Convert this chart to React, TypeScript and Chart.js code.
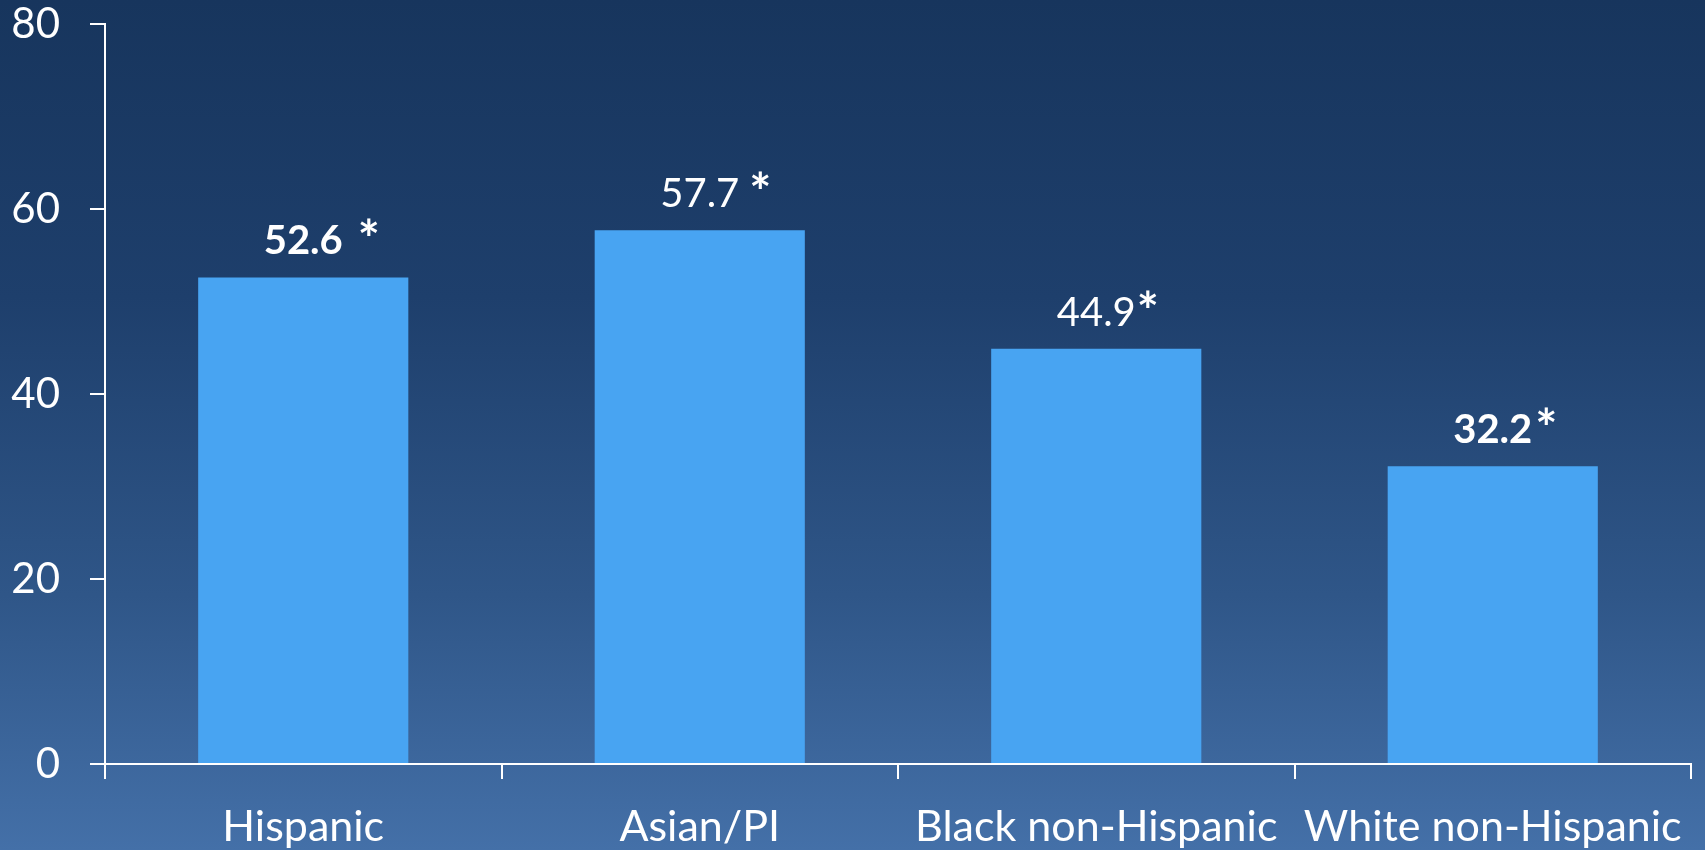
import React, { useEffect, useRef } from "react";
import { Chart, registerables } from "chart.js";

Chart.register(...registerables);

const categories = ["Hispanic", "Asian/PI", "Black non-Hispanic", "White non-Hispanic"];
const values = [52.6, 57.7, 44.9, 32.2];
const boldLabels = [true, false, false, true];
const markers = ["*", "*", "*", "*"];
const markerGaps = [15, 10, 1, 3];
const yTicks = [0, 20, 40, 60, 80];

const FONT = "Lato, 'Open Sans', sans-serif";

const labelPlugin = {
  id: "valueLabels",
  afterDatasetsDraw(chart: any) {
    const ctx = chart.ctx;
    const meta = chart.getDatasetMeta(0);
    ctx.save();
    ctx.fillStyle = "#ffffff";
    ctx.textBaseline = "alphabetic";
    meta.data.forEach((bar: any, i: number) => {
      const txt = values[i].toFixed(1);
      ctx.font = `${boldLabels[i] ? "bold " : ""}40px ${FONT}`;
      ctx.textAlign = "center";
      const baseY = bar.y - 23;
      ctx.fillText(txt, bar.x, baseY);
      const w = ctx.measureText(txt).width;
      ctx.font = `bold 52px ${FONT}`;
      ctx.textAlign = "left";
      ctx.fillText(markers[i], bar.x + w / 2 + markerGaps[i], baseY + 4);
    });
    ctx.restore();
  },
};

export default function App() {
  const ref = useRef<HTMLCanvasElement | null>(null);

  useEffect(() => {
    document.body.style.margin = "0";
    const canvas = ref.current;
    if (!canvas) return;
    const chart = new Chart(canvas, {
      type: "bar",
      data: {
        labels: categories,
        datasets: [
          {
            data: values,
            backgroundColor: "#48a4f2",
            borderWidth: 0,
            categoryPercentage: 0.53,
            barPercentage: 1,
          },
        ],
      },
      options: {
        animation: false,
        responsive: false,
        maintainAspectRatio: false,
        layout: { padding: { left: 0, right: 14, top: 24, bottom: 0 } },
        plugins: {
          legend: { display: false },
          tooltip: { enabled: false },
        },
        scales: {
          x: {
            grid: {
              display: true,
              drawOnChartArea: false,
              drawTicks: true,
              tickLength: 15,
              color: "#ffffff",
              lineWidth: 2,
              offset: true,
            },
            border: { display: true, color: "#ffffff", width: 2 },
            ticks: {
              color: "#ffffff",
              font: { family: FONT, size: 43 },
              padding: 22,
              maxRotation: 0,
              minRotation: 0,
              autoSkip: false,
            },
            afterFit: (scale: any) => {
              scale.height = 86;
              scale.paddingLeft = 0;
              scale.paddingRight = 0;
            },
          },
          y: {
            min: 0,
            max: 80,
            afterBuildTicks: (scale: any) => {
              scale.ticks = yTicks.map((v) => ({ value: v }));
            },
            grid: {
              display: true,
              drawOnChartArea: false,
              drawTicks: true,
              tickLength: 15,
              color: "#ffffff",
              lineWidth: 2,
            },
            border: { display: true, color: "#ffffff", width: 2 },
            ticks: {
              color: "#ffffff",
              font: { family: FONT, size: 42 },
              padding: 30,
            },
            afterFit: (scale: any) => {
              scale.width = 105;
              scale.paddingTop = 0;
              scale.paddingBottom = 0;
            },
          },
        },
      },
      plugins: [labelPlugin],
    });
    return () => chart.destroy();
  }, []);

  return (
    <div
      style={{
        position: "fixed",
        left: 0,
        top: 0,
        width: 1705,
        height: 850,
        background: "linear-gradient(to bottom, #17355d 0%, #1e3f6c 35%, #2f5688 70%, #4470a8 100%)",
      }}
    >
      <canvas ref={ref} width={1705} height={850} style={{ display: "block", width: 1705, height: 850 }} />
    </div>
  );
}
